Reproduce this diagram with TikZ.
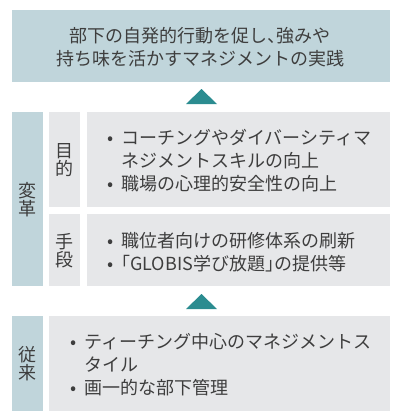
\documentclass[tikz,border=0pt]{standalone}
\usepackage{fontspec}
\setmainfont{Noto Sans CJK JP}
\definecolor{labblue}{RGB}{192,213,219}
\definecolor{panelgray}{RGB}{230,231,233}
\definecolor{tealtri}{RGB}{43,140,144}
\definecolor{textgray}{RGB}{62,62,62}
\newcommand{\bul}{\makebox[13pt][l]{\makebox[4pt][c]{•}}}
\newcommand{\ind}{\hspace*{13pt}}
\begin{document}
\begin{tikzpicture}[x=1pt,y=-1pt,
  labbox/.style={fill=labblue, inner sep=0pt, text=textgray},
  panelbox/.style={fill=panelgray, inner sep=0pt},
  txt/.style={inner sep=0pt, text=textgray, font=\fontsize{18}{23}\selectfont, align=left},
  ctxt/.style={inner sep=0pt, text=textgray, font=\fontsize{18}{23}\selectfont, align=center},
  vtxt/.style={inner sep=0pt, text=textgray, font=\fontsize{18}{18}\selectfont, align=center},
  tri/.style={fill=tealtri}]
\useasboundingbox (0,0) rectangle (395,412);
% top goal box
\node[labbox, minimum width=378pt, minimum height=72pt] (goal) at (201,46) {};
\node[ctxt] (goaltxt) at (200,47) {部下の自発的行動を促し\makebox[0.5em][l]{、}強みや\\持ち味を活かすマネジメントの実践};
% triangle 1
\fill[tri] (186,104) -- (201.5,89) -- (217,104) -- cycle;
% middle section
\node[labbox, minimum width=31pt, minimum height=174pt] (henkaku) at (27.5,199) {};
\node[vtxt] (henkakutxt) at (27.5,199.5) {変\\革};
\node[panelbox, minimum width=31pt, minimum height=95pt] (mokuteki) at (64.5,159.5) {};
\node[vtxt] (mokutekitxt) at (64.5,160.5) {目\\的};
\node[panelbox, minimum width=303pt, minimum height=95pt] (p1) at (238.5,159.5) {};
\node[txt, anchor=west] (p1txt) at (108,160.5) {\bul コーチングやダイバーシティマ\\\ind ネジメントスキルの向上\\\bul 職場の心理的安全性の向上};
\node[panelbox, minimum width=31pt, minimum height=72pt] (shudan) at (64.5,250) {};
\node[vtxt] (shudantxt) at (64.5,251) {手\\段};
\node[panelbox, minimum width=303pt, minimum height=72pt] (p2) at (238.5,250) {};
\node[txt, anchor=west] (p2txt) at (108,252.5) {\bul 職位者向けの研修体系の刷新\\\bul \makebox[0.5em][r]{「}GLOBIS学び放題\makebox[0.5em][l]{」}の提供等};
% triangle 2
\fill[tri] (186,309) -- (201.5,294) -- (217,309) -- cycle;
% bottom section
\node[labbox, minimum width=31pt, minimum height=95pt] (juurai) at (27.5,363.5) {};
\node[vtxt] (juuraitxt) at (27.5,363.5) {従\\来};
\node[panelbox, minimum width=341pt, minimum height=95pt] (p3) at (219.5,363.5) {};
\node[txt, anchor=west] (p3txt) at (71,365) {\bul ティーチング中心のマネジメントス\\\ind タイル\\\bul 画一的な部下管理};
\end{tikzpicture}
\end{document}
